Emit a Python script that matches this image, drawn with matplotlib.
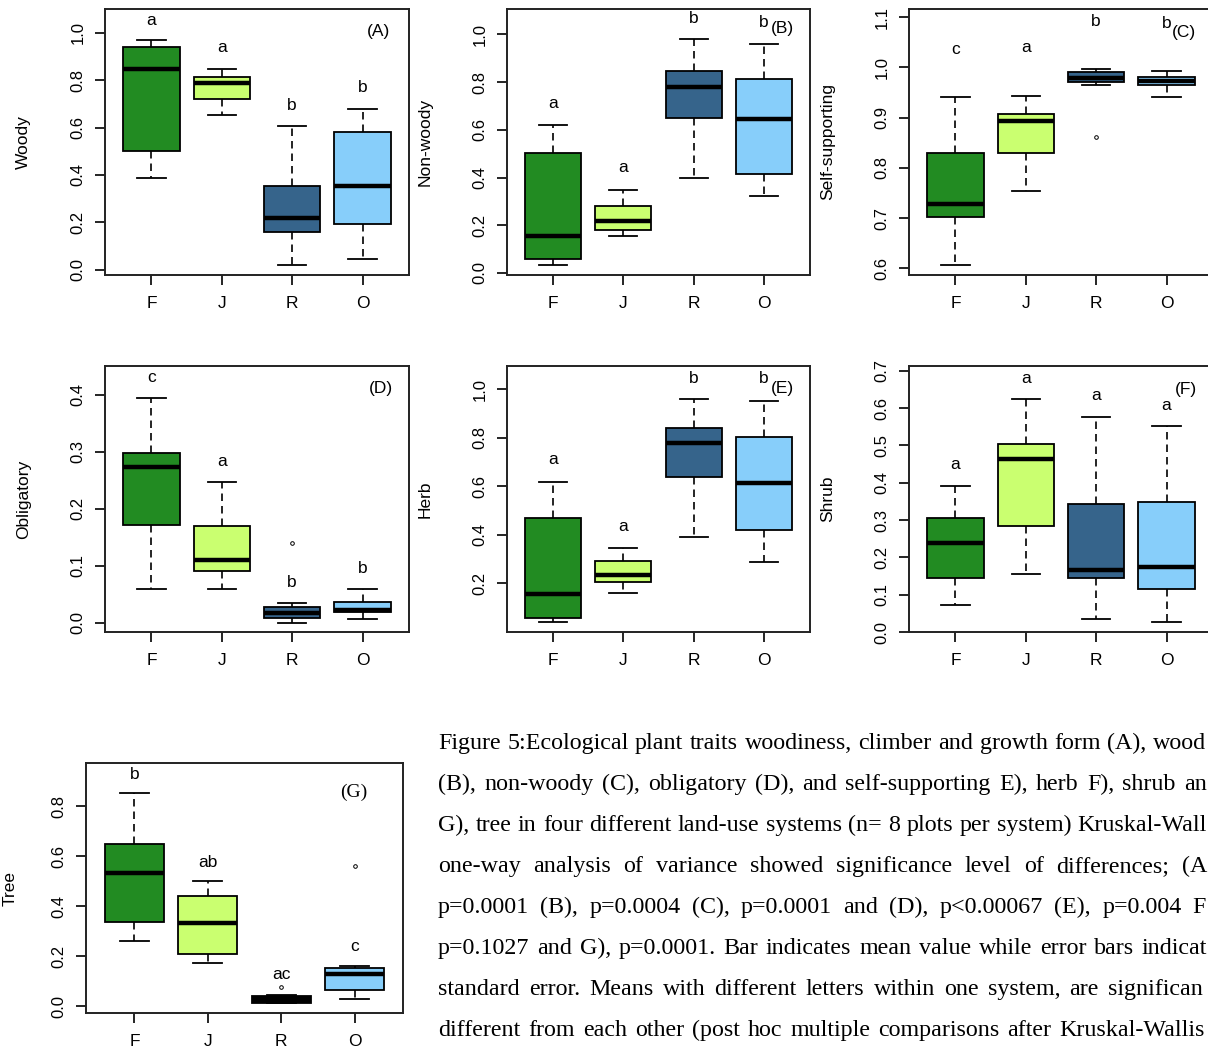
import matplotlib
matplotlib.use("Agg")
import matplotlib.pyplot as plt
import numpy as np

W, H, DPI = 1208, 1052, 100

groups = ["F", "J", "R", "O"]
colors = ["#228B22", "#CAFF70", "#36648B", "#87CEFA"]

# each entry: (whisker low, Q1, median, Q3, whisker high) for F, J, R, O
woody = [(0.386, 0.500, 0.848, 0.942, 0.968), (0.654, 0.721, 0.789, 0.815, 0.848),
         (0.018, 0.159, 0.218, 0.352, 0.607), (0.046, 0.192, 0.355, 0.580, 0.680)]
nonwoody = [(0.033, 0.059, 0.153, 0.502, 0.618), (0.153, 0.180, 0.219, 0.280, 0.348),
            (0.396, 0.651, 0.781, 0.846, 0.980), (0.321, 0.416, 0.644, 0.813, 0.959)]
selfsup = [(0.606, 0.703, 0.729, 0.829, 0.940), (0.755, 0.829, 0.893, 0.908, 0.943),
           (0.965, 0.971, 0.979, 0.991, 0.997), (0.940, 0.964, 0.973, 0.981, 0.993)]
obligatory = [(0.0585, 0.172, 0.2725, 0.297, 0.394), (0.0585, 0.091, 0.109, 0.170, 0.247),
              (0.000, 0.0076, 0.017, 0.028, 0.034), (0.006, 0.019, 0.023, 0.036, 0.0585)]
herb = [(0.039, 0.055, 0.155, 0.469, 0.619), (0.160, 0.2055, 0.233, 0.291, 0.345),
        (0.390, 0.638, 0.777, 0.842, 0.960), (0.285, 0.418, 0.613, 0.803, 0.953)]
shrub = [(0.072, 0.1446, 0.238, 0.3045, 0.390), (0.156, 0.284, 0.4625, 0.504, 0.624),
         (0.034, 0.144, 0.165, 0.343, 0.577), (0.026, 0.114, 0.174, 0.348, 0.552)]
tree = [(0.262, 0.336, 0.534, 0.6475, 0.853), (0.172, 0.2096, 0.331, 0.439, 0.502),
        (0.012, 0.012, 0.025, 0.0387, 0.045), (0.0267, 0.064, 0.127, 0.1535, 0.159)]

# outliers per group
selfsup_out = [[], [], [0.862], []]
obligatory_out = [[], [], [0.139], []]
tree_out = [[], [], [0.075], [0.563]]

# significance letters
woody_let = ["a", "a", "b", "b"]
nonwoody_let = ["a", "a", "b", "b"]
selfsup_let = ["c", "a", "b", "b"]
obligatory_let = ["c", "a", "b", "b"]
herb_let = ["a", "a", "b", "b"]
shrub_let = ["a", "a", "a", "a"]
tree_let = ["b", "ab", "ac", "c"]

# caption text as visible in the (cropped) reference
caption_lines = [
    "Figure 5:Ecological plant traits woodiness, climber and growth form (A), wood",
    "(B), non-woody (C), obligatory (D), and self-supporting E), herb F), shrub an",
    "G), tree in four different land-use systems (n= 8 plots per system) Kruskal-Wall",
    "one-way analysis of variance showed significance level of differences; (A",
    "p=0.0001 (B), p=0.0004 (C), p=0.0001 and (D), p<0.00067 (E), p=0.004 F",
    "p=0.1027 and G), p=0.0001. Bar indicates mean value while error bars indicat",
    "standard error. Means with different letters within one system, are significan",
    "different from each other (post hoc multiple comparisons after Kruskal-Wallis",
]
caption_right_x = [1206, 1207, 1207, 1207, 1206, 1207, 1203, 1205]
caption_base_y = [749, 790, 831, 872, 913, 954, 995, 1036]

SANS = ["Liberation Sans", "DejaVu Sans"]
SERIF = ["Liberation Serif", "DejaVu Serif"]

fig = plt.figure(figsize=(W / DPI, H / DPI), dpi=DPI)
fig.patch.set_facecolor("white")


def px_axes(l, t, r, b):
    return fig.add_axes([l / W, 1 - b / H, (r - l) / W, (b - t) / H])


def draw_panel(box, data, outliers, letters, letter_y, ylabel, ylim, yticks,
               tag, tag_xy, tag_serif=False, label_off=74, dark_box=None):
    l, t, r, b = box
    ax = px_axes(l, t, r, b)
    stats = []
    for (lo, q1, med, q3, hi), fl in zip(data, outliers):
        stats.append(dict(whislo=lo, q1=q1, med=med, q3=q3, whishi=hi, fliers=fl))
    bp = ax.bxp(stats, positions=[1, 2, 3, 4], widths=0.8, capwidths=0.4,
                patch_artist=True, showfliers=True,
                boxprops=dict(linewidth=1.3, edgecolor="black"),
                whiskerprops=dict(linestyle=(0, (4.5, 3)), linewidth=1.2, color="black"),
                capprops=dict(linewidth=1.3, color="black"),
                medianprops=dict(linewidth=3.2, color="black", solid_capstyle="butt"),
                flierprops=dict(marker="o", markersize=2.6, markerfacecolor="none",
                                markeredgecolor="black", markeredgewidth=0.7))
    for patch, c in zip(bp["boxes"], colors):
        patch.set_facecolor(c)
    if dark_box is not None:
        bp["boxes"][dark_box].set_facecolor("black")
    ax.set_xlim(0.34, 4.66)
    ax.set_ylim(*ylim)
    ax.set_xticks([1, 2, 3, 4])
    ax.set_xticklabels(groups, fontfamily=SANS, fontsize=12.5)
    ax.set_yticks(yticks)
    ax.set_yticklabels([f"{v:.1f}" for v in yticks], rotation=90, va="center",
                       fontfamily=SANS, fontsize=12)
    ax.tick_params(axis="both", direction="out", length=7, width=1.2, colors="black")
    ax.tick_params(axis="x", pad=8)
    ax.tick_params(axis="y", pad=7)
    for s in ax.spines.values():
        s.set_linewidth(1.4)
        s.set_color("#222222")
    ax.set_ylabel(ylabel, fontfamily=SANS, fontsize=12.5)
    ax.yaxis.set_label_coords(-label_off / (r - l), 0.5)
    for i, (lt, ly) in enumerate(zip(letters, letter_y)):
        ax.text(i + 1, ly, lt, ha="center", va="center", fontfamily=SANS, fontsize=12.5)
    if tag_serif:
        ax.text(tag_xy[0], tag_xy[1], tag, ha="center", va="center",
                fontfamily=SERIF, fontsize=14)
    else:
        ax.text(tag_xy[0], tag_xy[1], tag, ha="center", va="center",
                fontfamily=SANS, fontsize=12.5)
    return ax


draw_panel((105, 9, 409, 275), woody, [[]] * 4, woody_let,
           [1.054, 0.939, 0.693, 0.768], "Woody", (-0.0225, 1.101),
           [0.0, 0.2, 0.4, 0.6, 0.8, 1.0], "(A)", (4.22, 1.004))
draw_panel((507, 9, 810, 275), nonwoody, [[]] * 4, nonwoody_let,
           [0.710, 0.441, 1.066, 1.05], "Non-woody", (-0.0085, 1.106),
           [0.0, 0.2, 0.4, 0.6, 0.8, 1.0], "(B)", (4.26, 1.025))
draw_panel((909, 9, 1213, 275), selfsup, selfsup_out, selfsup_let,
           [1.036, 1.040, 1.091, 1.088], "Self-supporting", (0.587, 1.116),
           [0.6, 0.7, 0.8, 0.9, 1.0, 1.1], "(C)", (4.25, 1.070))
draw_panel((105, 366, 409, 632), obligatory, obligatory_out, obligatory_let,
           [0.430, 0.283, 0.070, 0.095], "Obligatory", (-0.0164, 0.450),
           [0.0, 0.1, 0.2, 0.3, 0.4], "(D)", (4.26, 0.4105))
draw_panel((507, 366, 810, 632), herb, [[]] * 4, herb_let,
           [0.708, 0.434, 1.044, 1.044], "Herb", (-0.0025, 1.096),
           [0.2, 0.4, 0.6, 0.8, 1.0], "(E)", (4.27, 1.003))
draw_panel((909, 366, 1213, 632), shrub, [[]] * 4, shrub_let,
           [0.448, 0.680, 0.634, 0.607], "Shrub", (0.0, 0.7125),
           [0.0, 0.1, 0.2, 0.3, 0.4, 0.5, 0.6, 0.7], "(F)", (4.28, 0.65))
draw_panel((86, 763, 403, 1013), tree, tree_out, tree_let,
           [0.927, 0.577, 0.1255, 0.239], "Tree", (-0.028, 0.974),
           [0.0, 0.2, 0.4, 0.6, 0.8], "(G)", (3.99, 0.857), tag_serif=True,
           label_off=68, dark_box=2)

# caption, justified word by word between the left margin and the visible right end
renderer = fig.canvas.get_renderer()
x0 = 438
for line, right_x, base in zip(caption_lines, caption_right_x, caption_base_y):
    words = line.split(" ")
    texts = [fig.text(0, 1 - base / H, w, fontfamily=SERIF, fontsize=17.3,
                      ha="left", va="baseline", color="black") for w in words]
    widths = [t.get_window_extent(renderer).width for t in texts]
    gap = (right_x - x0 - sum(widths)) / (len(words) - 1)
    gap = max(gap, 4.5)
    x = x0
    for t, wd in zip(texts, widths):
        t.set_x(x / W)
        x += wd + gap

fig.savefig("out.png", dpi=DPI, facecolor="white")
